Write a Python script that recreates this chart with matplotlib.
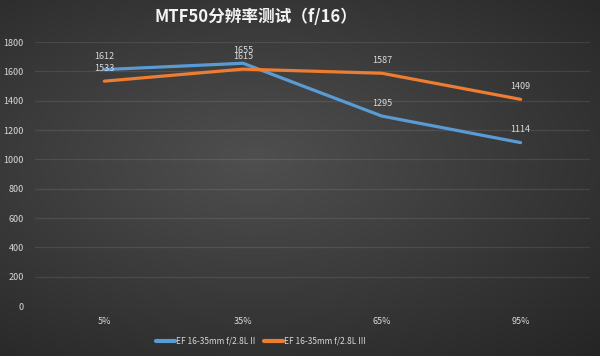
import numpy as np
import matplotlib
matplotlib.use("Agg")
import matplotlib.pyplot as plt

plt.rcParams['font.family'] = ['Noto Sans CJK SC', 'DejaVu Sans']

categories = ["5%", "35%", "65%", "95%"]
series_names = ["EF 16-35mm f/2.8L II", "EF 16-35mm f/2.8L III"]
lens2 = [1612, 1655, 1295, 1114]
lens3 = [1533, 1615, 1587, 1409]
yticks = [0, 200, 400, 600, 800, 1000, 1200, 1400, 1600, 1800]

fig = plt.figure(figsize=(6, 3.56), dpi=100)
# background gradient
bg = fig.add_axes([0, 0, 1, 1], zorder=-10)
yy, xx = np.mgrid[-1:1:356j, -1:1:600j]
r = np.sqrt(((xx + 0.15) * 0.9) ** 2 + ((yy + 0.1) * 1.0) ** 2)
val = 0.31 - 0.11 * np.clip(r, 0, 1.5)
bg.imshow(np.dstack([val, val, val]), aspect='auto', extent=[0, 1, 0, 1])
bg.axis('off')

ax = fig.add_axes([35/600, 1 - 306/356, 555/600, (306-42)/356])
ax.patch.set_alpha(0)
x = np.arange(len(categories))
colors = ['#5B9BD5', '#ED7D31']
for vals, c, name in zip([lens2, lens3], colors, series_names):
    ax.plot(x, vals, color=c, lw=2.3, label=name, solid_capstyle='round')
    for xi, v in zip(x, vals):
        ax.annotate(str(v), (xi, v), xytext=(0, 6), textcoords='offset points',
                    ha='center', va='bottom', color='#d9d9d9', fontsize=6.5)

ax.set_xlim(-0.5, 3.5)
ax.set_ylim(0, 1800)
ax.set_yticks(yticks)
ax.set_xticks(x)
ax.set_xticklabels(categories)
ax.tick_params(colors='#d9d9d9', labelsize=6.5, length=0)
ax.tick_params(axis='x', pad=8)
ax.tick_params(axis='y', pad=8)
ax.grid(axis='y', color='#ffffff', alpha=0.09, lw=0.9)
for s in ax.spines.values():
    s.set_visible(False)

fig.text(256/600, 1 - 17/356, "MTF50分辨率测试（f/16）", ha='center', va='center',
         color='#f2f2f2', fontsize=12, fontweight='bold')

leg = fig.legend(loc='center', bbox_to_anchor=(261/600, 1 - 341/356), ncol=2, frameon=False,
                 fontsize=6, labelcolor='#d9d9d9', handlelength=2.3, columnspacing=1.0,
                 handletextpad=0.15)
for h in leg.get_lines():
    h.set_linewidth(3)

fig.savefig("out.png", dpi=100)
